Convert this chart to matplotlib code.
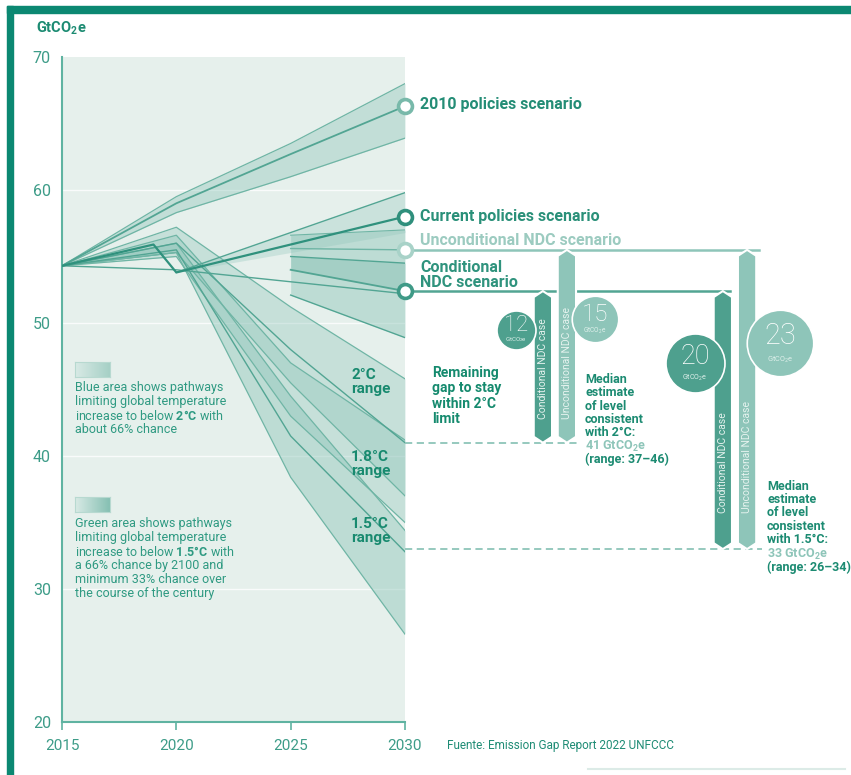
import matplotlib
matplotlib.use('Agg')
import matplotlib.pyplot as plt
import numpy as np
from matplotlib.patches import Polygon, Rectangle
from matplotlib.colors import LinearSegmentedColormap

plt.rcParams['font.family'] = ['Roboto', 'DejaVu Sans']
plt.rcParams['mathtext.fontset'] = 'custom'
plt.rcParams['mathtext.rm'] = 'Roboto'
plt.rcParams['mathtext.bf'] = 'Roboto:bold'

# ---- data (GtCO2e) ----
hist_years = [2015, 2019, 2020]
hist_vals = [54.3, 55.9, 53.8]

pol_years = [2015, 2020, 2025, 2030]
pol2010_mid = [54.3, 59.0, 62.7, 66.3]
pol2010_low = [54.3, 58.3, 61.0, 63.9]
pol2010_high = [54.3, 59.5, 63.5, 68.0]

cur_years = [2020, 2030]
cur_mid = [53.8, 58.0]
cur_low = [53.8, 56.8]
cur_high = [53.8, 59.8]

ndc_years = [2025, 2030]
ndc_top = [56.6, 57.0]
ndc_uncond = [55.6, 55.5]
ndc_mid = [55.0, 54.5]
ndc_cond = [54.0, 52.4]
ndc_bottom = [52.1, 48.9]

cond_years = [2015, 2020, 2030]
cond_vals = [54.3, 54.0, 52.2]

path_years = [2015, 2020, 2025, 2030]
p20_high = [54.3, 57.2, 51.2, 45.8]
p20_mid = [54.3, 56.0, 48.0, 41.0]
p20_low = [54.3, 55.3, 45.5, 37.0]
p18_high = [54.3, 56.6, 47.0, 41.2]
p18_low = [54.3, 55.0, 43.0, 35.0]
p15_high = [54.3, 56.0, 44.5, 34.4]
p15_mid = [54.3, 55.5, 41.5, 32.8]
p15_low = [54.3, 55.3, 38.4, 26.6]

scenario_names = ['2010 policies scenario', 'Current policies scenario',
                  'Unconditional NDC scenario', 'Conditional\nNDC scenario']
scenario_2030 = [66.3, 58.0, 55.5, 52.4]

target_2c = 41
target_15c = 33
gap_2c = [12, 15]    # conditional, unconditional
gap_15c = [20, 23]

xticks = [2015, 2020, 2025, 2030]
yticks = [20, 30, 40, 50, 60, 70]

# ---- colours ----
DARK = '#0b8872'
TXT = '#1c8b72'
TICK = '#3d9c88'
LIGHT = '#8ec5b9'
MID = '#52a593'
FILL = '#8cc4b8'
EDGE = '#6fb5a5'

W, H = 851, 775
fig = plt.figure(figsize=(W / 100, H / 100), dpi=100)
fig.patch.set_facecolor('white')

# frame (top and left bands)
fig.patches.append(Rectangle((7 / W, 1 - 13 / H), 1 - 7 / W, 7 / H, transform=fig.transFigure,
                             color=DARK, zorder=0))
fig.patches.append(Rectangle((7 / W, 0), 6 / W, 1 - 6 / H, transform=fig.transFigure,
                             color=DARK, zorder=0))
fig.lines.append(plt.Line2D([588 / W, 845 / W], [6 / H, 6 / H], transform=fig.transFigure,
                            color='#dcebe7', lw=1.5))

x0, x1, ytop, ybot = 62, 405, 57, 722
ax = fig.add_axes([x0 / W, 1 - ybot / H, (x1 - x0) / W, (ybot - ytop) / H])
ax.set_facecolor('#e6f0ec')
ax.set_xlim(2015, 2030)
ax.set_ylim(20, 70)

for v in yticks[1:-1]:
    ax.axhline(v, color='white', lw=1, alpha=0.8, zorder=1)

# pathways
for hi, lo, a in [(p20_high, p20_low, 0.35), (p18_high, p18_low, 0.35), (p15_high, p15_low, 0.45)]:
    ax.fill_between(path_years, lo, hi, color=FILL, alpha=a, lw=0, zorder=2)
    ax.plot(path_years, hi, color=EDGE, lw=0.9, zorder=3)
    ax.plot(path_years, lo, color=EDGE, lw=0.9, zorder=3)
for m in [p20_mid, p15_mid]:
    ax.plot(path_years, m, color=MID, lw=1.0, zorder=3)

# 2010 policies
ax.fill_between(pol_years, pol2010_low, pol2010_high, color=FILL, alpha=0.4, lw=0, zorder=2)
ax.plot(pol_years, pol2010_high, color=EDGE, lw=0.9, zorder=3)
ax.plot(pol_years, pol2010_low, color=EDGE, lw=0.9, zorder=3)
ax.plot(pol_years, pol2010_mid, color=MID, lw=1.3, zorder=3)

# current policies
ax.fill_between(cur_years, cur_low, cur_high, color=FILL, alpha=0.3, lw=0, zorder=2)
ax.plot(cur_years, cur_high, color=MID, lw=1.0, zorder=3)

# NDC box
ax.fill_between(ndc_years, ndc_bottom, ndc_top, color=FILL, alpha=0.45, lw=0, zorder=2)
ax.fill_between(ndc_years, ndc_cond, ndc_mid, color=FILL, alpha=0.5, lw=0, zorder=2)
ax.plot(ndc_years, ndc_top, color=EDGE, lw=0.8, zorder=3)
ax.plot(ndc_years, ndc_bottom, color=MID, lw=1.0, zorder=3)
ax.plot(ndc_years, ndc_uncond, color=EDGE, lw=1.0, zorder=3)
ax.plot(ndc_years, ndc_mid, color=MID, lw=1.0, zorder=3)
ax.plot(ndc_years, ndc_cond, color=MID, lw=1.3, zorder=3)
ax.plot(cond_years, cond_vals, color=MID, lw=1.0, zorder=3)

# history + current policy median
ax.plot(hist_years + [cur_years[-1]], hist_vals + [cur_mid[-1]], color='#2f917d', lw=1.6, zorder=4)

# scenario markers and labels
mk_colors = ['#78b9aa', '#2f8f7c', '#a8d2c8', '#3f9a87']
lbl_colors = ['#248d76', '#2a9079', '#9ccbc0', '#2f937d']
lbl_dy = [1, 0, 7, 11.5]
for name, v, mc, lc, dy in zip(scenario_names, scenario_2030, mk_colors, lbl_colors, lbl_dy):
    ax.plot([2030], [v], 'o', ms=10, mfc='white', mec=mc, mew=2.6, zorder=8, clip_on=False)
    ax.annotate(name, (2030, v), xytext=(11, dy), textcoords='offset points',
                ha='left', va='center', fontsize=11.5, fontweight='bold', color=lc,
                linespacing=0.95, zorder=8, annotation_clip=False)

# right side: NDC levels, targets, gap arrows
uncond_end, cond_end = 2045.5, 2044.2
ax.plot([2030, uncond_end], [scenario_2030[2]] * 2, color=LIGHT, lw=1.8, zorder=5, clip_on=False)
ax.plot([2030, cond_end], [scenario_2030[3]] * 2, color=MID, lw=1.8, zorder=5, clip_on=False)
ax.plot([2030, 2037.5], [target_2c] * 2, color=LIGHT, lw=1.3, ls=(0, (4, 2.5)), zorder=5, clip_on=False)
ax.plot([2030, 2045.6], [target_15c] * 2, color=LIGHT, lw=1.3, ls=(0, (4, 2.5)), zorder=5, clip_on=False)


def arrow_bar(xc, top, bottom, color, label, txt_off):
    w, h = 0.8, 0.45
    pts = [(xc, top), (xc + w / 2, top - h), (xc + w / 2, bottom + h), (xc, bottom),
           (xc - w / 2, bottom + h), (xc - w / 2, top - h)]
    ax.add_patch(Polygon(pts, closed=True, fc=color, ec='white', lw=1.5, zorder=6, clip_on=False))
    ax.text(xc, bottom + txt_off, label, rotation=90, ha='center', va='bottom', fontsize=7.5,
            color='#e6f3ef', zorder=7, clip_on=False)


bar_x = {'2c': [2036.03, 2037.08], '15c': [2043.9, 2044.96]}
tops = [scenario_2030[3], scenario_2030[2]]
bar_cols = ['#4ea08e', LIGHT]
bar_lbl = ['Conditional NDC case', 'Unconditional NDC case']
for i in range(2):
    arrow_bar(bar_x['2c'][i], tops[i], target_2c, bar_cols[i], bar_lbl[i], 1.8)
    arrow_bar(bar_x['15c'][i], tops[i], target_15c, bar_cols[i], bar_lbl[i], 2.7)


def gap_circle(xc, yc, val, color):
    r = 1.25 * val + 4.5  # px
    ax.scatter([xc], [yc], s=(2 * r * 0.72) ** 2, color=color, edgecolor='white', lw=1.2,
               zorder=9, clip_on=False)
    ax.annotate(str(val), (xc, yc), xytext=(0, 0.2 * r * 0.72), textcoords='offset points',
                ha='center', va='center', fontsize=10.5 + 0.45 * val, fontweight='light',
                color='white', zorder=10, annotation_clip=False)
    ax.annotate(r'GtCO$_2$e', (xc, yc), xytext=(0, -0.5 * r * 0.72), textcoords='offset points',
                ha='center', va='center', fontsize=3.5 + 0.08 * val, color='#dff0eb',
                zorder=10, annotation_clip=False)


gap_circle(2034.85, 49.5, gap_2c[0], '#4ea08e')
gap_circle(2038.3, 50.3, gap_2c[1], LIGHT)
gap_circle(2042.68, 47.0, gap_15c[0], '#4ea08e')
gap_circle(2046.4, 48.5, gap_15c[1], LIGHT)

# axes styling
for s in ['top', 'right']:
    ax.spines[s].set_visible(False)
for s in ['left', 'bottom']:
    ax.spines[s].set_color('#5fb3a1')
    ax.spines[s].set_linewidth(1.5)
ax.set_xticks(xticks)
ax.set_yticks(yticks)
ax.tick_params(axis='x', direction='out', length=6, width=1.2, color='#5fb3a1', pad=6,
               labelsize=11, labelcolor=TICK)
ax.tick_params(axis='y', length=0, pad=8, labelsize=11.5, labelcolor=TICK)

# texts
fig.text(36 / W, 1 - 28 / H, r'GtCO$_\mathbf{2}$e', fontsize=10.5, fontweight='bold', color=TXT,
         ha='left', va='center')

range_lbls = ['2°C\nrange', '1.8°C\nrange', '1.5°C\nrange']
range_y = [382, 464, 531]
for t, y in zip(range_lbls, range_y):
    fig.text(351 / W, 1 - y / H, t, fontsize=11, fontweight='bold', color='#188a6f',
             ha='left', va='center', linespacing=1.0, zorder=10)

fig.text(75 / W, 1 - 381 / H,
         'Blue area shows pathways\nlimiting global temperature\n'
         r'increase to below $\mathbf{2°C}$ with' '\nabout 66% chance',
         fontsize=9, color='#2f9a82', ha='left', va='top', linespacing=1.08)
fig.text(75 / W, 1 - 517 / H,
         'Green area shows pathways\nlimiting global temperature\n'
         r'increase to below $\mathbf{1.5°C}$ with' '\na 66% chance by 2100 and\n'
         'minimum 33% chance over\nthe course of the century',
         fontsize=9, color='#2f9a82', ha='left', va='top', linespacing=1.08)

for yy, cm in [(362, ['#d8eae5', '#a6d0c6']), (497, ['#d8eae5', '#86c0b3'])]:
    sw = fig.add_axes([75 / W, 1 - (yy + 15) / H, 35 / W, 15 / H])
    sw.imshow(np.linspace(0, 1, 50)[None, :], aspect='auto',
              cmap=LinearSegmentedColormap.from_list('g', cm))
    sw.set_xticks([])
    sw.set_yticks([])
    for s in sw.spines.values():
        s.set_color('#b7d9d0')

fig.text(432 / W, 1 - 396 / H, 'Remaining\ngap to stay\nwithin 2°C\nlimit', fontsize=10,
         fontweight='bold', color='#158a6e', ha='left', va='center', linespacing=1.12)

fig.text(585 / W, 1 - 406 / H, 'Median\nestimate\nof level\nconsistent\nwith 2°C:',
         fontsize=9, fontweight='bold', color=TXT, ha='left', va='center', linespacing=1.03)
fig.text(585 / W, 1 - 446 / H, r'41 GtCO$_\mathbf{2}$e', fontsize=9, fontweight='bold',
         color=LIGHT, ha='left', va='center')
fig.text(585 / W, 1 - 459 / H, '(range: 37–46)', fontsize=9, fontweight='bold',
         color=TXT, ha='left', va='center')

fig.text(767 / W, 1 - 513 / H, 'Median\nestimate\nof level\nconsistent\nwith 1.5°C:',
         fontsize=9, fontweight='bold', color=TXT, ha='left', va='center', linespacing=1.03)
fig.text(767 / W, 1 - 554 / H, r'33 GtCO$_\mathbf{2}$e', fontsize=9, fontweight='bold',
         color=LIGHT, ha='left', va='center')
fig.text(767 / W, 1 - 567 / H, '(range: 26–34)', fontsize=9, fontweight='bold',
         color=TXT, ha='left', va='center')

fig.text(447 / W, 1 - 745 / H, 'Fuente: Emission Gap Report 2022 UNFCCC',
         fontsize=8.5, color='#1f8c75', ha='left', va='center')

fig.savefig('out.png', dpi=100)
